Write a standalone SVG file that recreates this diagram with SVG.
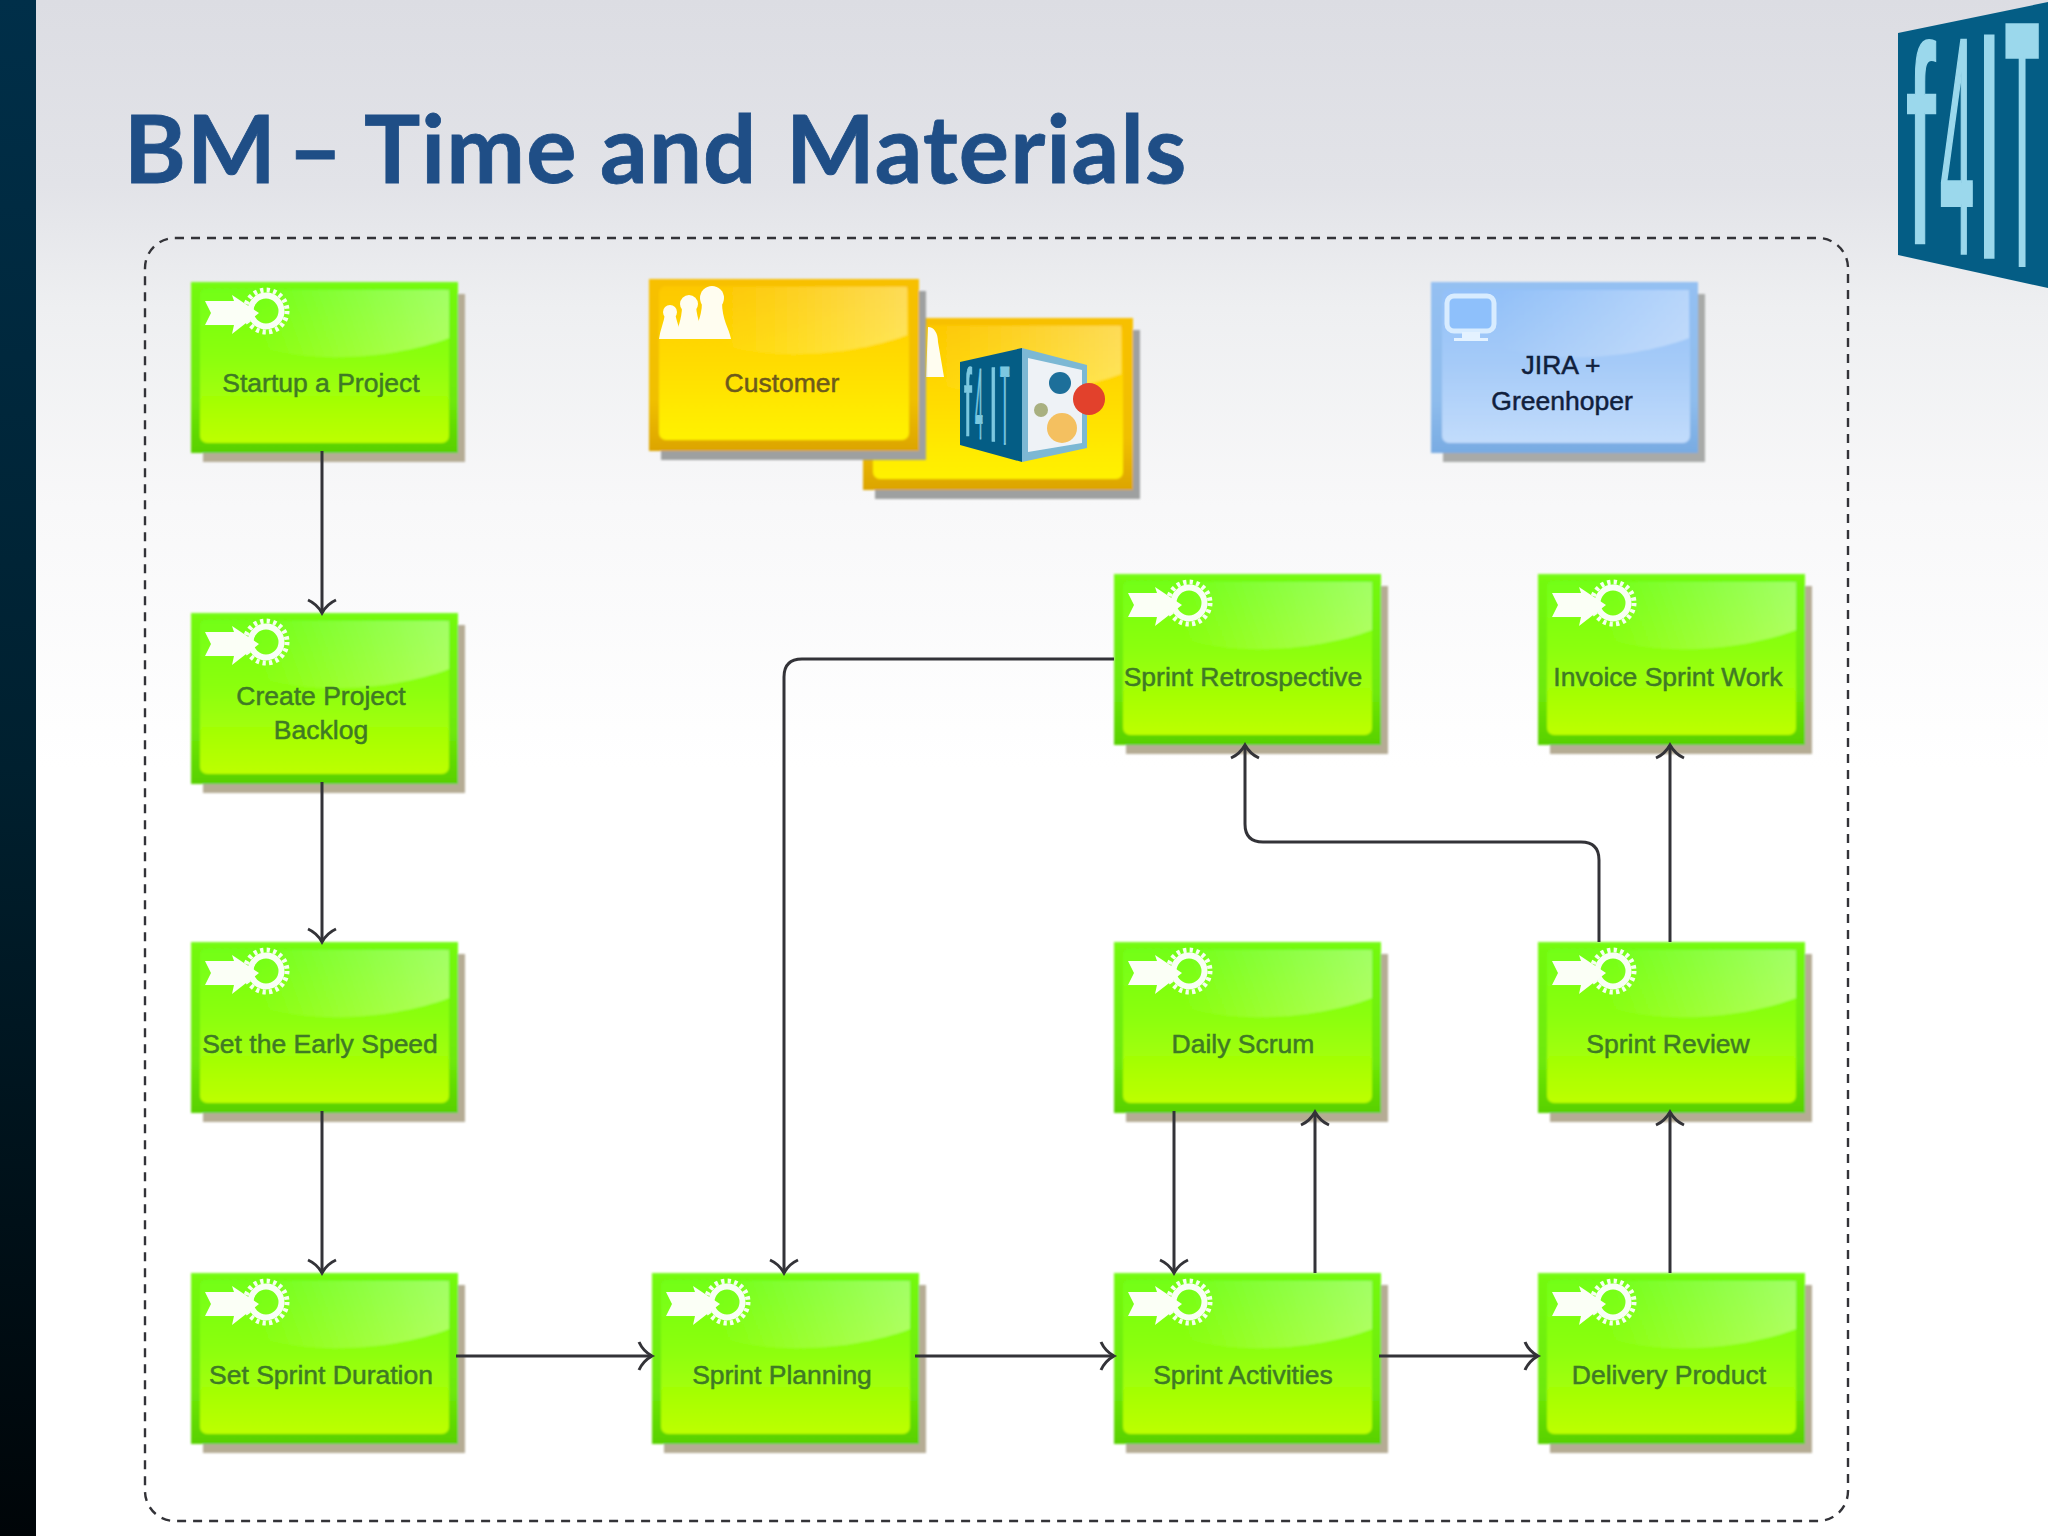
<svg xmlns="http://www.w3.org/2000/svg" width="2048" height="1536" viewBox="0 0 2048 1536">
<style>
.lbl{font-family:"Liberation Sans",Arial,sans-serif;font-size:26.5px;text-anchor:middle;fill:#3f7a25;stroke:#3f7a25;stroke-width:.5}
.c{fill:none;stroke:#333338;stroke-width:3;marker-end:url(#arr)}
.logo{font-family:"Liberation Sans",Arial,sans-serif;fill:#9bd8ec;stroke:#9bd8ec;vector-effect:non-scaling-stroke}
.mini{font-family:"Liberation Sans",Arial,sans-serif;fill:#7cc8e0;stroke:#7cc8e0;vector-effect:non-scaling-stroke}
</style>
<defs>
<filter id="soft" x="-5%" y="-5%" width="110%" height="110%"><feGaussianBlur stdDeviation="0.9"/></filter>
<linearGradient id="bg" x1="0" y1="0" x2="0" y2="1"><stop offset="0" stop-color="#dcdde3"/><stop offset=".12" stop-color="#e2e3e8"/><stop offset=".2" stop-color="#eeeff1"/><stop offset=".33" stop-color="#f8f8f9"/><stop offset=".5" stop-color="#fff"/><stop offset="1" stop-color="#fff"/></linearGradient>
<linearGradient id="bar" x1="0" y1="0" x2="0" y2="1"><stop offset="0" stop-color="#002f49"/><stop offset=".5" stop-color="#00202f"/><stop offset="1" stop-color="#000508"/></linearGradient>
<linearGradient id="gOut" x1="0" y1="0" x2="0" y2="1"><stop offset="0" stop-color="#74fa12"/><stop offset=".7" stop-color="#6ee808"/><stop offset="1" stop-color="#58d000"/></linearGradient>
<linearGradient id="yOut" x1="0" y1="0" x2="0" y2="1"><stop offset="0" stop-color="#f8c000"/><stop offset=".7" stop-color="#f0c000"/><stop offset="1" stop-color="#dca400"/></linearGradient>
<linearGradient id="bOut" x1="0" y1="0" x2="0" y2="1"><stop offset="0" stop-color="#94c0f2"/><stop offset=".7" stop-color="#8ebcec"/><stop offset="1" stop-color="#78abe2"/></linearGradient>
<linearGradient id="gIn" x1="0" y1="0" x2="0" y2="1"><stop offset="0" stop-color="#72ff18"/><stop offset=".45" stop-color="#8cff0c"/><stop offset="1" stop-color="#bdff00"/></linearGradient>
<linearGradient id="yIn" x1="0" y1="0" x2="0" y2="1"><stop offset="0" stop-color="#fdc800"/><stop offset=".5" stop-color="#ffdc00"/><stop offset="1" stop-color="#fff200"/></linearGradient>
<linearGradient id="bIn" x1="0" y1="0" x2="0" y2="1"><stop offset="0" stop-color="#92c0f8"/><stop offset=".5" stop-color="#a6cbf8"/><stop offset="1" stop-color="#c2dcfb"/></linearGradient>
<linearGradient id="gloss" x1="0" y1="0" x2="1" y2="0"><stop offset=".15" stop-color="#fff" stop-opacity="0"/><stop offset="1" stop-color="#fff" stop-opacity=".34"/></linearGradient>
<marker id="arr" markerUnits="userSpaceOnUse" markerWidth="34" markerHeight="34" refX="29" refY="17" orient="auto"><path d="M16 3Q20 12 29 17Q20 22 16 31" fill="none" stroke="#333338" stroke-width="3"/></marker>
<path id="gl" d="M36 8H258V56C205 76 120 84 60 62C42 50 36 25 36 8Z" fill="url(#gloss)"/>
<g id="gear">
<circle cx="75" cy="29" r="21" fill="none" stroke="#f6fff0" stroke-width="5" stroke-dasharray="3.3 3.3"/>
<circle cx="75" cy="29" r="15.5" fill="none" stroke="#f8fff4" stroke-width="6"/>
<path d="M14 19H43L41 13L68 31L41 52L43 43H14L20 31Z" fill="#fbfff6"/>
</g>
<g id="gBody" filter="url(#soft)">
<rect x="12" y="12" width="262" height="168" fill="#b5ac94"/>
<rect width="267" height="171" fill="url(#gOut)"/>
<rect x="9" y="7" width="249" height="154" rx="7" fill="url(#gIn)"/>
<use href="#gl"/>
</g>
<g id="gBox"><use href="#gBody"/><use href="#gear"/></g>
<g id="yBox" filter="url(#soft)">
<rect x="12" y="12" width="265" height="169" fill="#9ea0a0"/>
<rect width="270" height="172" fill="url(#yOut)"/>
<rect x="10" y="7" width="250" height="154" rx="7" fill="url(#yIn)"/>
<use href="#gl"/>
</g>
</defs>

<rect width="2048" height="1536" fill="url(#bg)"/>
<rect width="36" height="1536" fill="url(#bar)"/>

<g id="logo">
<polygon points="1898,33 2048,2 2048,288 1898,255" fill="#045d85"/>
<text class="logo" transform="translate(1906,243) scale(.38,1)" font-size="280" stroke-width="2">f</text>
<text class="logo" transform="translate(1940,252) scale(.2,1)" font-size="306" stroke-width="4">4</text>
<text class="logo" transform="translate(1976,256) scale(.3,1)" font-size="318" stroke-width="4">I</text>
<text class="logo" transform="translate(2005,262) scale(.165,1)" font-size="340" stroke-width="7">T</text>
</g>

<text id="title" y="183" font-family="Lato,'Open Sans',sans-serif" font-weight="700" font-size="94" letter-spacing="1.2" fill="#1f4e86" stroke="#1f4e86" stroke-width=".8"><tspan x="124">BM</tspan><tspan x="288">–</tspan><tspan x="364">Time</tspan><tspan x="600">and</tspan><tspan x="786">Materials</tspan></text>

<rect id="frame" x="145" y="238" width="1703" height="1283" rx="30" fill="none" stroke="#333338" stroke-width="2.4" stroke-dasharray="9 7"/>

<g id="n-startup"><use href="#gBox" x="191" y="282"/><text class="lbl" x="321" y="392">Startup a Project</text></g>
<g id="n-backlog"><use href="#gBox" x="191" y="613"/><text class="lbl" x="321" y="705">Create Project</text><text class="lbl" x="321" y="739">Backlog</text></g>
<g id="n-speed"><use href="#gBox" x="191" y="942"/><text class="lbl" x="320" y="1053">Set the Early Speed</text></g>
<g id="n-duration"><use href="#gBox" x="191" y="1273"/><text class="lbl" x="321" y="1384">Set Sprint Duration</text></g>
<g id="n-planning"><use href="#gBox" x="652" y="1273"/><text class="lbl" x="782" y="1384">Sprint Planning</text></g>
<g id="n-activities"><use href="#gBox" x="1114" y="1273"/><text class="lbl" x="1243" y="1384">Sprint Activities</text></g>
<g id="n-delivery"><use href="#gBox" x="1538" y="1273"/><text class="lbl" x="1669" y="1384">Delivery Product</text></g>
<g id="n-scrum"><use href="#gBox" x="1114" y="942"/><text class="lbl" x="1243" y="1053">Daily Scrum</text></g>
<g id="n-review"><use href="#gBox" x="1538" y="942"/><text class="lbl" x="1668" y="1053">Sprint Review</text></g>
<g id="n-retro"><use href="#gBox" x="1114" y="574"/><text class="lbl" x="1243" y="686">Sprint Retrospective</text></g>
<g id="n-invoice"><use href="#gBox" x="1538" y="574"/><text class="lbl" x="1668" y="686">Invoice Sprint Work</text></g>

<g id="n-f4it">
<use href="#yBox" x="863" y="318"/>
<path d="M928 327C934 327 938 333 938 342L944 377H926Z" fill="#fffdf0"/>
<g transform="translate(960,348)">
<polygon points="0,14 62,0 62,114 0,97" fill="#045d85"/>
<polygon points="62,0 127,17 127,100 62,114" fill="#7cb8d4"/>
<polygon points="68,10 122,22 122,95 68,104" fill="#eef2f6"/>
<text class="mini" transform="translate(4,88) scale(.3,1)" font-size="95" stroke-width="1">f</text>
<text class="mini" transform="translate(15,91) scale(.14,1)" font-size="100" stroke-width="1.5">4</text>
<text class="mini" transform="translate(29,93) scale(.3,1)" font-size="105" stroke-width="1">I</text>
<text class="mini" transform="translate(40,96) scale(.14,1)" font-size="112" stroke-width="1.5">T</text>
<circle cx="100" cy="35" r="11" fill="#1d6f9a"/>
<circle cx="81" cy="62" r="7" fill="#a8b080"/>
<circle cx="102" cy="80" r="15" fill="#f4c060"/>
</g>
<circle cx="1089" cy="399" r="16" fill="#e2412c"/>
</g>
<g id="n-customer">
<use href="#yBox" x="649" y="279"/>
<g fill="#fffdf0"><circle cx="670" cy="312" r="7"/><path d="M659 339C660 330 664 322 665 314H675C677 322 680 330 682 339Z"/><circle cx="689" cy="304" r="9"/><path d="M675 339C677 328 682 320 682 306H696C697 320 702 328 704 339Z"/><circle cx="712" cy="298" r="12"/><path d="M692 339C694 328 702 320 702 302H722C722 320 729 328 731 339Z"/></g>
<text class="lbl" x="782" y="392" style="fill:#6d5a1c;stroke:#6d5a1c">Customer</text>
</g>
<g id="n-jira">
<g filter="url(#soft)">
<rect x="1443" y="294" width="262" height="168" fill="#a8aaa8"/>
<rect x="1431" y="282" width="267" height="171" fill="url(#bOut)"/>
<rect x="1442" y="289" width="248" height="154" rx="7" fill="url(#bIn)"/>
<use href="#gl" x="1431" y="282"/>
</g>
<rect x="1447" y="296" width="47" height="35" rx="7" fill="#8ec0fb" stroke="#d8ecff" stroke-width="5"/>
<path d="M1462 332H1480V338H1488V341H1454V338H1462Z" fill="#e4f2ff"/>
<text class="lbl" x="1561" y="374" style="fill:#10203c;stroke:#10203c">JIRA +</text>
<text class="lbl" x="1562" y="410" style="fill:#10203c;stroke:#10203c">Greenhoper</text>
</g>

<g id="connectors">
<path class="c" d="M322 451V613"/>
<path class="c" d="M322 782V942"/>
<path class="c" d="M322 1111V1273"/>
<path class="c" d="M456 1356H652"/>
<path class="c" d="M915 1356H1114"/>
<path class="c" d="M1379 1356H1538"/>
<path class="c" d="M1114 659H802Q784 659 784 677V1273"/>
<path class="c" d="M1174 1111V1273"/>
<path class="c" d="M1315 1273V1112"/>
<path class="c" d="M1599 942V860Q1599 842 1581 842H1263Q1245 842 1245 824V745"/>
<path class="c" d="M1670 942V745"/>
<path class="c" d="M1670 1273V1112"/>
</g>
</svg>
